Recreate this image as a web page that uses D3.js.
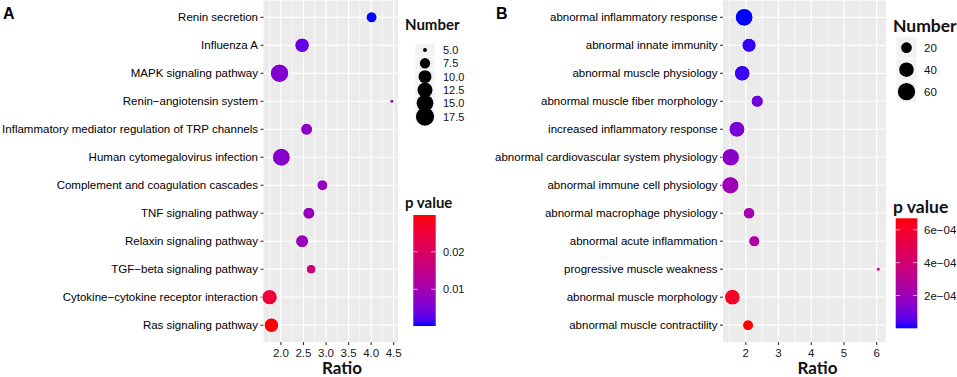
<!DOCTYPE html>
<html><head><meta charset="utf-8">
<script src="https://cdn.jsdelivr.net/npm/d3@7/dist/d3.min.js"></script>
<style>
html,body{margin:0;padding:0;background:#fff;}
svg{display:block;}
</style></head>
<body><svg id="chart" width="957" height="377"></svg>
<script>
// ---------- Data: panel A (KEGG pathways) ----------
const pathwaysA = ["Renin secretion","Influenza A","MAPK signaling pathway","Renin\u2212angiotensin system",
  "Inflammatory mediator regulation of TRP channels","Human cytomegalovirus infection",
  "Complement and coagulation cascades","TNF signaling pathway","Relaxin signaling pathway",
  "TGF\u2212beta signaling pathway","Cytokine\u2212cytokine receptor interaction","Ras signaling pathway"];
const ratioA  = [4.01, 2.47, 1.97, 4.46, 2.57, 2.01, 2.92, 2.62, 2.47, 2.67, 1.75, 1.79];
const numberA = [8, 12, 18, 5, 9, 17, 8, 9, 10, 7, 13, 12];
const pvalueA = [0.0002, 0.0035, 0.0060, 0.0068, 0.0073, 0.0065, 0.0082, 0.0085, 0.0088, 0.0175, 0.0252, 0.0298];
const xTicksA = [2.0, 2.5, 3.0, 3.5, 4.0, 4.5];
const xTickLabelsA = ["2.0","2.5","3.0","3.5","4.0","4.5"];
const sizeBreaksA = [5.0, 7.5, 10.0, 12.5, 15.0, 17.5];
const sizeLabelsA = ["5.0","7.5","10.0","12.5","15.0","17.5"];
const colorBreaksA = [0.01, 0.02];
const colorLabelsA = ["0.01","0.02"];

// ---------- Data: panel B (phenotypes) ----------
const termsB = ["abnormal inflammatory response","abnormal innate immunity","abnormal muscle physiology",
  "abnormal muscle fiber morphology","increased inflammatory response","abnormal cardiovascular system physiology",
  "abnormal immune cell physiology","abnormal macrophage physiology","abnormal acute inflammation",
  "progressive muscle weakness","abnormal muscle morphology","abnormal muscle contractility"];
const ratioB  = [1.95, 2.10, 1.89, 2.35, 1.73, 1.54, 1.53, 2.10, 2.26, 6.05, 1.59, 2.07];
const numberB = [64, 38, 48, 27, 50, 62, 60, 24, 22, 6, 48, 21];
const pvalueB = [0.0000001, 0.00002, 0.000027, 0.000095, 0.00011, 0.000145, 0.000205, 0.000225, 0.00026, 0.00043, 0.000615, 0.00067];
const xTicksB = [2, 3, 4, 5, 6];
const xTickLabelsB = ["2","3","4","5","6"];
const sizeBreaksB = [20, 40, 60];
const sizeLabelsB = ["20","40","60"];
const colorBreaksB = [0.0002, 0.0004, 0.0006];
const colorLabelsB = ["2e\u221204","4e\u221204","6e\u221204"];

// ---------- Drawing ----------
const svg = d3.select("#chart");
const labelFont = "'Liberation Sans', Arial, sans-serif";
const titleFont = "Lato, 'Open Sans', sans-serif";

function padded(ext){ const s = ext[1]-ext[0]; return [ext[0]-0.05*s, ext[1]+0.05*s]; }

function panel(cfg){
  const g = svg.append("g");
  const x = d3.scaleLinear().domain(padded(d3.extent(cfg.ratio))).range([cfg.left, cfg.right]);
  const y = d3.scalePoint().domain(cfg.cats).range([cfg.top, cfg.bottom]).padding(0.6);
  const nExt = d3.extent(cfg.number);
  const rLin = d3.scaleLinear().domain([0,1]).range(cfg.rRange);
  const r = n => rLin(Math.sqrt(Math.max(0,(n - nExt[0])/(nExt[1]-nExt[0]))));
  const col = d3.scaleLinear().domain(d3.extent(cfg.pvalue)).range(["blue","red"]).interpolate(d3.interpolateLab);

  // panel background
  g.append("rect").attr("x",cfg.left).attr("y",cfg.top).attr("width",cfg.right-cfg.left)
    .attr("height",cfg.bottom-cfg.top).attr("fill","#EBEBEB");
  // minor grid
  const step = cfg.ticks[1]-cfg.ticks[0];
  const minors = [cfg.ticks[0]-step/2].concat(cfg.ticks.map(t=>t+step/2))
    .filter(v => v > x.domain()[0] && v < x.domain()[1]);
  g.selectAll(".minor").data(minors).enter().append("line")
    .attr("x1",d=>x(d)).attr("x2",d=>x(d)).attr("y1",cfg.top).attr("y2",cfg.bottom)
    .attr("stroke","#fff").attr("stroke-width",0.6);
  // major grid
  g.selectAll(".vmaj").data(cfg.ticks).enter().append("line")
    .attr("x1",d=>x(d)).attr("x2",d=>x(d)).attr("y1",cfg.top).attr("y2",cfg.bottom)
    .attr("stroke","#fff").attr("stroke-width",1.2);
  g.selectAll(".hmaj").data(cfg.cats).enter().append("line")
    .attr("x1",cfg.left).attr("x2",cfg.right).attr("y1",d=>y(d)).attr("y2",d=>y(d))
    .attr("stroke","#fff").attr("stroke-width",1.2);

  // y axis
  g.selectAll(".ytick").data(cfg.cats).enter().append("line")
    .attr("x1",cfg.left-3).attr("x2",cfg.left).attr("y1",d=>y(d)).attr("y2",d=>y(d))
    .attr("stroke","#333").attr("stroke-width",1.1);
  g.selectAll(".ylab").data(cfg.cats).enter().append("text")
    .attr("x",cfg.left-5.5).attr("y",d=>y(d)).attr("dy","0.36em").attr("text-anchor","end")
    .attr("font-family",labelFont).attr("font-size",11.5).attr("fill","#000").text(d=>d);

  // x axis
  g.selectAll(".xtick").data(cfg.ticks).enter().append("line")
    .attr("x1",d=>x(d)).attr("x2",d=>x(d)).attr("y1",cfg.bottom).attr("y2",cfg.bottom+3)
    .attr("stroke","#333").attr("stroke-width",1.1);
  g.selectAll(".xlab").data(cfg.ticks).enter().append("text")
    .attr("x",d=>x(d)).attr("y",356.5).attr("text-anchor","middle")
    .attr("font-family",labelFont).attr("font-size",11.5).attr("fill","#1a1a1a")
    .text((d,i)=>cfg.tickLabels[i]);
  g.append("text").attr("x",cfg.titleX).attr("y",374).attr("text-anchor","middle")
    .attr("font-family",titleFont).attr("font-weight","bold").attr("font-size",17).attr("fill","#111").text("Ratio");

  // points
  g.selectAll(".pt").data(cfg.cats).enter().append("circle")
    .attr("cx",(d,i)=>x(cfg.ratio[i])).attr("cy",d=>y(d))
    .attr("r",(d,i)=>r(cfg.number[i])).attr("fill",(d,i)=>col(cfg.pvalue[i]))
    .attr("stroke","#fff").attr("stroke-width",1);

  // panel letter
  svg.append("text").attr("x",cfg.letterX).attr("y",18.5).attr("font-family",labelFont)
    .attr("font-weight","bold").attr("font-size",16).attr("fill","#000").text(cfg.letter);

  // size legend
  const L = cfg.leg;
  g.append("text").attr("x",L.titleX).attr("y",L.sizeTitleY).attr("font-family",titleFont)
    .attr("font-weight","bold").attr("font-size",L.titleSize).attr("fill","#111").text("Number");
  cfg.sizeBreaks.forEach((b,i)=>{
    const ky = L.keyTop + i*L.keyH;
    g.append("rect").attr("x",L.keyX).attr("y",ky).attr("width",L.keyW).attr("height",L.keyH)
      .attr("fill","#F2F2F2").attr("stroke","#fff").attr("stroke-width",0.8);
    g.append("circle").attr("cx",L.keyX+L.keyW/2).attr("cy",ky+L.keyH/2).attr("r",r(b)).attr("fill","#000");
    g.append("text").attr("x",L.labX).attr("y",ky+L.keyH/2).attr("dy","0.36em")
      .attr("font-family",labelFont).attr("font-size",L.labSize).attr("fill","#111").text(cfg.sizeLabels[i]);
  });

  // colour legend
  g.append("text").attr("x",L.titleX).attr("y",L.colTitleY).attr("font-family",titleFont)
    .attr("font-weight","bold").attr("font-size",L.titleSize).attr("fill","#111").text("p value");
  const gid = "grad"+cfg.letter;
  const grad = svg.append("defs").append("linearGradient").attr("id",gid)
    .attr("x1",0).attr("x2",0).attr("y1",1).attr("y2",0);
  const pd = col.domain();
  d3.range(0,1.0001,0.05).forEach(t=>{
    grad.append("stop").attr("offset",t).attr("stop-color",col(pd[0]+t*(pd[1]-pd[0])));
  });
  const cb = d3.scaleLinear().domain(pd).range([L.barBottom, L.barTop]);
  g.append("rect").attr("x",L.barX).attr("y",L.barTop).attr("width",L.barW)
    .attr("height",L.barBottom-L.barTop).attr("fill",`url(#${gid})`);
  cfg.colorBreaks.forEach((b,i)=>{
    const yy = cb(b);
    g.append("line").attr("x1",L.barX).attr("x2",L.barX+L.barW/5).attr("y1",yy).attr("y2",yy)
      .attr("stroke","#fff").attr("stroke-width",0.8).attr("opacity",0.8);
    g.append("line").attr("x1",L.barX+L.barW*4/5).attr("x2",L.barX+L.barW).attr("y1",yy).attr("y2",yy)
      .attr("stroke","#fff").attr("stroke-width",0.8).attr("opacity",0.8);
    g.append("text").attr("x",L.labX).attr("y",yy).attr("dy","0.36em")
      .attr("font-family",labelFont).attr("font-size",L.labSize).attr("fill","#111").text(cfg.colorLabels[i]);
  });
}

panel({letter:"A", letterX:3, cats:pathwaysA, ratio:ratioA, number:numberA, pvalue:pvalueA,
  ticks:xTicksA, tickLabels:xTickLabelsA, sizeBreaks:sizeBreaksA, sizeLabels:sizeLabelsA,
  colorBreaks:colorBreaksA, colorLabels:colorLabelsA,
  left:263.5, right:398, top:0.5, bottom:342, rRange:[2,9.25], titleX:342,
  leg:{titleX:405, titleSize:15, sizeTitleY:30, keyX:415, keyW:20, keyTop:43.3, keyH:13.33, labX:443, labSize:11,
       colTitleY:208, barX:413.3, barW:22.4, barTop:215, barBottom:326}});

panel({letter:"B", letterX:496, cats:termsB, ratio:ratioB, number:numberB, pvalue:pvalueB,
  ticks:xTicksB, tickLabels:xTickLabelsB, sizeBreaks:sizeBreaksB, sizeLabels:sizeLabelsB,
  colorBreaks:colorBreaksB, colorLabels:colorLabelsB,
  left:723, right:885.7, top:0.5, bottom:342, rRange:[2,8.9], titleX:817.5,
  leg:{titleX:893, titleSize:17.5, sizeTitleY:31.5, keyX:896, keyW:21, keyTop:36.7, keyH:22, labX:924, labSize:11.5,
       colTitleY:212.5, barX:895.7, barW:21.6, barTop:218.3, barBottom:328.3}});
</script>
</body></html>
